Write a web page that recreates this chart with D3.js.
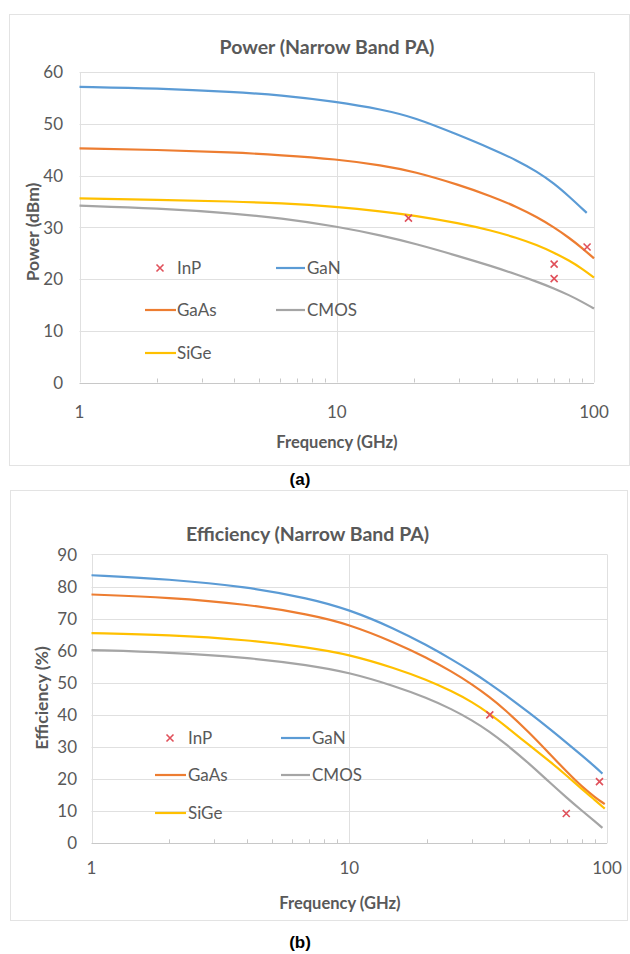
<!DOCTYPE html>
<html>
<head>
<meta charset="utf-8">
<script src="https://cdn.jsdelivr.net/npm/d3@7"></script>
<style>
  body { margin: 0; background: #fff; }
  svg text { font-family: Lato, "Open Sans", sans-serif; fill: #595959; }
</style>
</head>
<body>
<svg id="svg" width="630" height="954"></svg>
<script>
// ---- data (a) power ----
var powerFreq    = [1, 2, 4, 6, 10, 15, 20, 30, 40, 50, 60, 70, 80, 90, 100]
var powerFreqGaN = [1, 2, 4, 6, 10, 15, 20, 30, 40, 50, 60, 70, 80, 93.7]
var powerGaN  = [57.2, 56.9, 56.2, 55.6, 54.3, 52.8, 51.3, 47.8, 45.2, 43.0, 40.8, 38.5, 36.0, 32.8]
var powerGaAs = [45.3, 45.0, 44.5, 44.0, 43.2, 42.0, 40.8, 38.2, 36.0, 34.0, 32.0, 30.0, 28.0, 26.0, 24.0]
var powerSiGe = [35.6, 35.35, 35.0, 34.7, 34.0, 33.1, 32.3, 30.8, 29.4, 28.0, 26.6, 25.1, 23.6, 22.0, 20.3]
var powerCMOS = [34.2, 33.7, 32.7, 31.8, 30.2, 28.4, 26.9, 24.4, 22.5, 20.9, 19.5, 18.2, 16.9, 15.6, 14.3]
var powerInPFreq = [19, 70, 70, 94]
var powerInP     = [31.8, 22.9, 20.1, 26.2]

// ---- data (b) efficiency ----
var effFreq      = [1, 2, 4, 7, 10, 15, 20, 25, 30, 35, 40, 50, 60, 70, 80, 90, 98]
var effFreqShort = [1, 2, 4, 7, 10, 15, 20, 25, 30, 35, 40, 50, 60, 70, 80, 90, 96]
var effGaN  = [83.5, 82.3, 79.9, 76.3, 72.8, 66.9, 61.7, 57.3, 53.4, 49.8, 46.5, 40.6, 35.6, 31.2, 27.3, 23.8, 21.7]
var effGaAs = [77.5, 76.6, 74.5, 71.3, 68.2, 62.6, 57.8, 53.5, 49.5, 45.6, 41.8, 34.5, 27.8, 22.2, 17.6, 14.3, 12.2]
var effSiGe = [65.5, 64.9, 63.4, 61.0, 58.8, 54.6, 50.9, 47.4, 44.0, 40.4, 36.8, 30.5, 25.5, 21.0, 16.8, 13.4, 10.8]
var effCMOS = [60.2, 59.5, 57.9, 55.5, 53.2, 49.0, 45.3, 41.8, 38.3, 34.8, 31.3, 24.8, 18.9, 14.1, 10.1, 6.8, 4.8]
var effInPFreq = [35.1, 69.5, 93.5]
var effInP     = [40.0, 9.3, 19.2]

var xTicks = [1, 10, 100]
var minorTicks = [2, 3, 4, 5, 6, 7, 8, 9, 20, 30, 40, 50, 60, 70, 80, 90]

var colors = { GaN: "#5b9bd5", GaAs: "#ed7d31", SiGe: "#ffc000", CMOS: "#a5a5a5", InP: "#e0505a" }

var svg = d3.select("#svg")

function drawChart(c) {
  var g = svg.append("g")

  // frame
  g.append("rect")
    .attr("x", c.frame[0] + 0.5).attr("y", c.frame[1] + 0.5)
    .attr("width", c.frame[2] - c.frame[0]).attr("height", c.frame[3] - c.frame[1])
    .attr("fill", "#fff").attr("stroke", "#e3e3e3")

  var x = d3.scaleLog().domain([1, 100]).range([c.left, c.right])
  var y = d3.scaleLinear().domain([0, c.ymax]).range([c.bottom, c.top])

  // horizontal gridlines
  g.append("g").selectAll("line")
    .data(d3.range(10, c.ymax + 1, 10))
    .enter().append("line")
    .attr("x1", c.left).attr("x2", c.right)
    .attr("y1", function(d) { return Math.round(y(d)) + 0.5 })
    .attr("y2", function(d) { return Math.round(y(d)) + 0.5 })
    .attr("stroke", "#e0e0e0")

  // vertical gridlines
  g.append("g").selectAll("line")
    .data(xTicks)
    .enter().append("line")
    .attr("x1", function(d) { return Math.round(x(d)) + 0.5 })
    .attr("x2", function(d) { return Math.round(x(d)) + 0.5 })
    .attr("y1", c.top).attr("y2", c.bottom)
    .attr("stroke", "#e0e0e0")

  // x axis line + minor ticks
  g.append("line")
    .attr("x1", c.left).attr("x2", c.right)
    .attr("y1", Math.round(c.bottom) + 0.5).attr("y2", Math.round(c.bottom) + 0.5)
    .attr("stroke", "#c8c8c8")
  g.append("g").selectAll("line")
    .data(minorTicks)
    .enter().append("line")
    .attr("x1", function(d) { return Math.round(x(d)) + 0.5 })
    .attr("x2", function(d) { return Math.round(x(d)) + 0.5 })
    .attr("y1", c.bottom - 4).attr("y2", c.bottom)
    .attr("stroke", "#c8c8c8")

  // y tick labels
  g.append("g").selectAll("text")
    .data(d3.range(0, c.ymax + 1, 10))
    .enter().append("text")
    .attr("x", c.ylabelX).attr("y", function(d) { return y(d) })
    .attr("dy", "0.36em")
    .attr("text-anchor", "end")
    .style("font-size", "17px")
    .text(function(d) { return d })

  // x tick labels
  g.append("g").selectAll("text")
    .data(xTicks)
    .enter().append("text")
    .attr("x", function(d) { return x(d) }).attr("y", c.xlabelY)
    .attr("text-anchor", "middle")
    .style("font-size", "17px")
    .text(function(d) { return d })

  // titles
  g.append("text")
    .attr("x", c.title[0]).attr("y", c.title[1])
    .attr("text-anchor", "middle")
    .style("font-size", "19.5px").style("font-weight", "bold")
    .text(c.titleText)
  g.append("text")
    .attr("x", c.xTitle[0]).attr("y", c.xTitle[1])
    .attr("text-anchor", "middle")
    .style("font-size", "16.5px").style("font-weight", "bold")
    .text("Frequency (GHz)")
  g.append("text")
    .attr("transform", "translate(" + c.yTitle[0] + "," + c.yTitle[1] + ") rotate(-90)")
    .attr("text-anchor", "middle").attr("dy", "0.35em")
    .style("font-size", "17.5px").style("font-weight", "bold")
    .text(c.yTitleText)

  // lines (smoothed like the spreadsheet curves)
  var line = d3.line()
    .x(function(d) { return x(d[0]) })
    .y(function(d) { return y(d[1]) })
    .curve(d3.curveBasis)

  c.series.forEach(function(s) {
    g.append("path")
      .datum(d3.zip(s.freq, s.values))
      .attr("fill", "none")
      .attr("stroke", colors[s.name])
      .attr("stroke-width", 2.2)
      .attr("d", line)
  })

  // InP markers
  g.append("g").selectAll("path")
    .data(d3.zip(c.inpFreq, c.inp))
    .enter().append("path")
    .attr("transform", function(d) { return "translate(" + x(d[0]) + "," + y(d[1]) + ")" })
    .attr("d", "M-3.5,-3.5L3.5,3.5M-3.5,3.5L3.5,-3.5")
    .attr("stroke", colors.InP).attr("stroke-width", 1.6)

  // legend
  var lg = c.legend
  var items = [
    { name: "InP", col: 0, row: 0 }, { name: "GaN", col: 1, row: 0 },
    { name: "GaAs", col: 0, row: 1 }, { name: "CMOS", col: 1, row: 1 },
    { name: "SiGe", col: 0, row: 2 }
  ]
  items.forEach(function(it) {
    var ly = lg.rows[it.row], col = lg.cols[it.col]
    if (it.name == "InP") {
      g.append("path")
        .attr("transform", "translate(" + lg.marker + "," + ly + ")")
        .attr("d", "M-3.5,-3.5L3.5,3.5M-3.5,3.5L3.5,-3.5")
        .attr("stroke", colors.InP).attr("stroke-width", 1.6)
    } else {
      g.append("line")
        .attr("x1", col[0]).attr("x2", col[1])
        .attr("y1", ly).attr("y2", ly)
        .attr("stroke", colors[it.name]).attr("stroke-width", 2.2)
    }
    g.append("text")
      .attr("x", col[2]).attr("y", ly).attr("dy", "0.36em")
      .style("font-size", "17px")
      .text(it.name)
  })

  // caption
  svg.append("text")
    .attr("x", c.caption[0]).attr("y", c.caption[1])
    .attr("text-anchor", "middle")
    .style("font-family", "'Liberation Sans', Arial, sans-serif")
    .style("font-size", "17px").style("font-weight", "bold").style("fill", "#000")
    .text(c.captionText)
}

drawChart({
  frame: [9, 14, 629, 465],
  left: 79.5, right: 594, top: 72.3, bottom: 382.5, ymax: 60,
  ylabelX: 63, xlabelY: 418,
  title: [327, 54], titleText: "Power (Narrow Band PA)",
  xTitle: [337, 448], yTitle: [33, 232], yTitleText: "Power (dBm)",
  series: [
    { name: "GaN", freq: powerFreqGaN, values: powerGaN },
    { name: "GaAs", freq: powerFreq, values: powerGaAs },
    { name: "CMOS", freq: powerFreq, values: powerCMOS },
    { name: "SiGe", freq: powerFreq, values: powerSiGe }
  ],
  inpFreq: powerInPFreq, inp: powerInP,
  legend: { rows: [268, 310, 353], marker: 160, cols: [[145, 176, 177], [276, 305, 307]] },
  caption: [300, 485], captionText: "(a)"
})

drawChart({
  frame: [10, 490, 627, 920],
  left: 91.5, right: 607, top: 554.4, bottom: 843.3, ymax: 90,
  ylabelX: 77, xlabelY: 874,
  title: [307.5, 541], titleText: "Efficiency (Narrow Band PA)",
  xTitle: [340, 909], yTitle: [42, 698], yTitleText: "Efficiency (%)",
  series: [
    { name: "GaN", freq: effFreqShort, values: effGaN },
    { name: "GaAs", freq: effFreq, values: effGaAs },
    { name: "CMOS", freq: effFreqShort, values: effCMOS },
    { name: "SiGe", freq: effFreq, values: effSiGe }
  ],
  inpFreq: effInPFreq, inp: effInP,
  legend: { rows: [738, 775, 813], marker: 170, cols: [[155, 186, 188], [281, 310, 312]] },
  caption: [300, 948], captionText: "(b)"
})
</script>
</body>
</html>
